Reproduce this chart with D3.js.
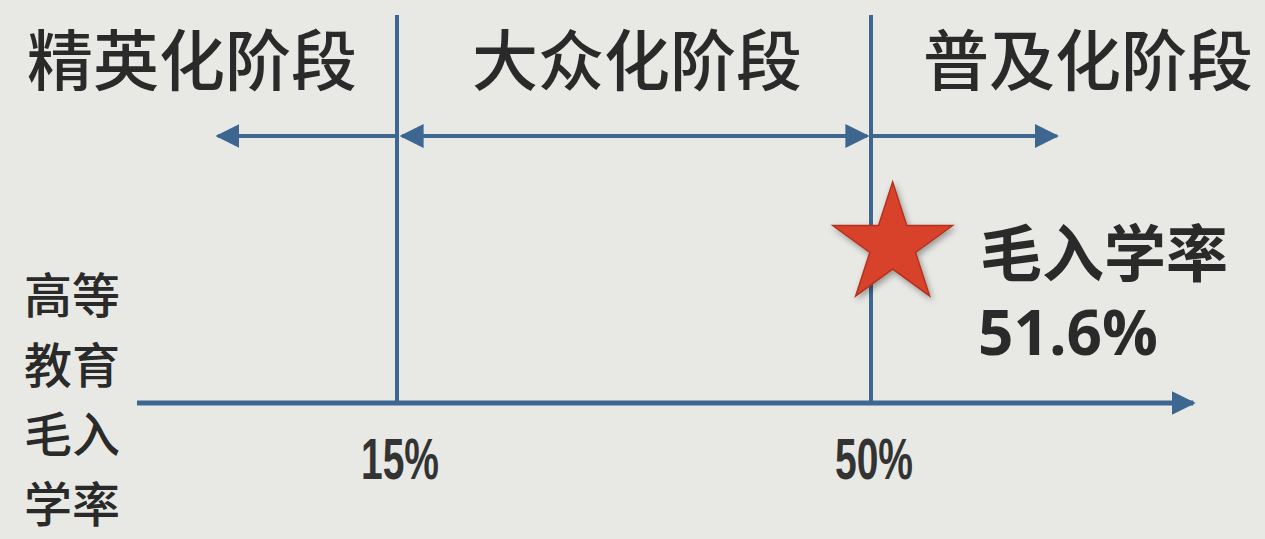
<!DOCTYPE html>
<html><head><meta charset="utf-8">
<script src="https://cdn.jsdelivr.net/npm/d3@7/dist/d3.min.js"></script>
<style>
html,body{margin:0;padding:0;background:#e8e9e5;}
svg{display:block;}
</style></head>
<body>
<svg id="chart" width="1265" height="539"></svg>
<script>
// ---- data ----
const thresholds = [15, 50];                  // stage boundaries (%)
const tickLabels = ["15%", "50%"];
const stages = ["精英化阶段", "大众化阶段", "普及化阶段"];
const stageRanges = [[1.4, 15], [15, 50], [50, 64]]; // arrow spans in % units
const stageArrowHeads = [["start"], ["start", "end"], ["end"]];
const axisRange = [-4.2, 73.8];
const currentValue = 51.6;
const currentLabel = ["毛入学率", "51.6%"];
const yTitle = ["高等", "教育", "毛入", "学率"];

// ---- layout ----
const W = 1265, H = 539;
const svg = d3.select("#chart");
const lineColor = "#3d6690";
const textColor = "#2a2a2a";
const x = d3.scaleLinear().domain([15, 50]).range([397, 871]);
const axisY = 403, arrowY = 136, topY = 15;

const defs = svg.append("defs");
function marker(id, orient) {
  defs.append("marker").attr("id", id)
    .attr("viewBox", "0 0 10 10").attr("refX", 9).attr("refY", 5)
    .attr("markerUnits", "userSpaceOnUse")
    .attr("markerWidth", 24).attr("markerHeight", 26)
    .attr("orient", orient)
    .append("path").attr("d", "M0,0 L10,5 L0,10 Z").attr("fill", lineColor);
}
marker("arrowEnd", "auto");
marker("arrowStart", "auto-start-reverse");

const f = defs.append("filter").attr("id", "shadow")
  .attr("x", "-30%").attr("y", "-30%").attr("width", "160%").attr("height", "160%");
f.append("feDropShadow").attr("dx", 2).attr("dy", 3).attr("stdDeviation", 3)
  .attr("flood-color", "#000").attr("flood-opacity", 0.35);

// vertical boundary lines
svg.selectAll("line.bound").data(thresholds).join("line")
  .attr("class", "bound")
  .attr("x1", d => x(d)).attr("x2", d => x(d))
  .attr("y1", topY).attr("y2", axisY)
  .attr("stroke", lineColor).attr("stroke-width", 4);

// horizontal axis with arrow
svg.append("line")
  .attr("x1", x(axisRange[0])).attr("x2", x(axisRange[1]))
  .attr("y1", axisY).attr("y2", axisY)
  .attr("stroke", lineColor).attr("stroke-width", 5)
  .attr("marker-end", "url(#arrowEnd)");

// stage arrows
svg.selectAll("line.stage").data(stageRanges).join("line")
  .attr("class", "stage")
  .attr("x1", (d, i) => x(d[0]) + (stageArrowHeads[i].includes("start") ? 5 : 0))
  .attr("x2", (d, i) => x(d[1]) - (stageArrowHeads[i].includes("end") ? 4 : 0))
  .attr("y1", arrowY).attr("y2", arrowY)
  .attr("stroke", lineColor).attr("stroke-width", 4)
  .attr("marker-start", (d, i) => stageArrowHeads[i].includes("start") ? "url(#arrowStart)" : null)
  .attr("marker-end", (d, i) => stageArrowHeads[i].includes("end") ? "url(#arrowEnd)" : null);

// stage labels
const stageCenters = [192, 637, 1088];
svg.selectAll("text.stage").data(stages).join("text")
  .attr("class", "stage")
  .attr("x", (d, i) => stageCenters[i]).attr("y", 56)
  .attr("text-anchor", "middle").attr("dominant-baseline", "central")
  .attr("font-family", "'Noto Sans CJK SC', sans-serif")
  .attr("font-weight", 500)
  .attr("font-size", 66).attr("fill", textColor)
  .text(d => d);

// tick labels
svg.selectAll("text.tick").data(thresholds).join("text")
  .attr("class", "tick")
  .attr("x", d => x(d) + 3).attr("y", 479)
  .attr("text-anchor", "middle")
  .attr("font-family", "'Liberation Sans Narrow', 'Liberation Sans', Arial, sans-serif")
  .attr("font-weight", "bold")
  .attr("font-size", 58).attr("fill", "#333")
  .attr("textLength", 78).attr("lengthAdjust", "spacingAndGlyphs")
  .text((d, i) => tickLabels[i]);

// star at current value
const star = d3.symbol().type(d3.symbolStar).size(4450);
svg.append("path")
  .attr("d", star())
  .attr("transform", `translate(${x(currentValue)},${245})`)
  .attr("fill", "#d8432c").attr("stroke", "#b3331f").attr("stroke-width", 1.5)
  .attr("filter", "url(#shadow)");

// current value label
svg.append("text")
  .attr("x", 980).attr("y", 250)
  .attr("dominant-baseline", "central")
  .attr("font-family", "'Noto Sans CJK SC', sans-serif")
  .attr("font-weight", "bold").attr("font-size", 62).attr("fill", textColor)
  .text(currentLabel[0]);
svg.append("text")
  .attr("x", 978).attr("y", 355)
  .attr("font-family", "'Open Sans', 'Noto Sans', sans-serif")
  .attr("font-weight", "bold").attr("font-size", 62).attr("fill", textColor)
  .text(currentLabel[1]);

// y title (two chars per line)
svg.selectAll("text.ytitle").data(yTitle).join("text")
  .attr("class", "ytitle")
  .attr("x", 72).attr("y", (d, i) => 292 + i * 69.5)
  .attr("text-anchor", "middle").attr("dominant-baseline", "central")
  .attr("font-family", "'Noto Sans CJK SC', sans-serif")
  .attr("font-weight", 500)
  .attr("font-size", 48).attr("fill", textColor)
  .text(d => d);
</script>
</body></html>
